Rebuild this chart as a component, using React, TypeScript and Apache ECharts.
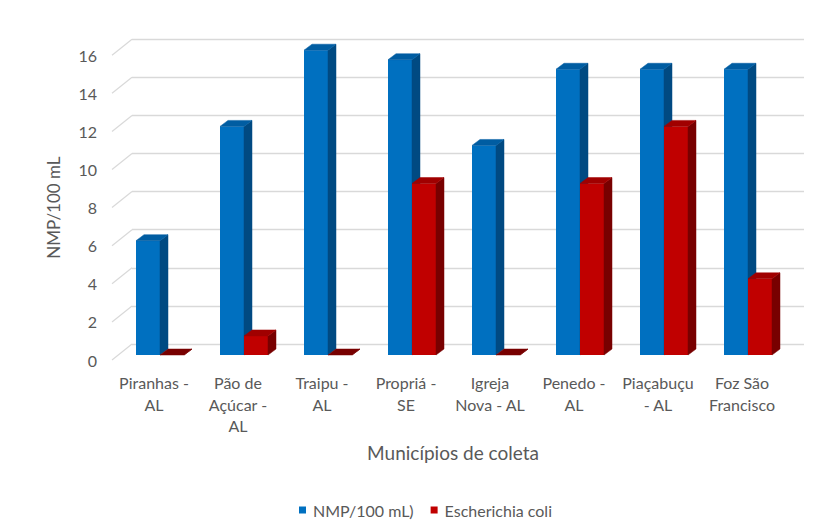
import React, { useEffect, useRef } from "react";
import * as echarts from "echarts";

const categories = [
  "Piranhas -\nAL",
  "Pão de\nAçúcar -\nAL",
  "Traipu -\nAL",
  "Propriá -\nSE",
  "Igreja\nNova - AL",
  "Penedo -\nAL",
  "Piaçabuçu\n- AL",
  "Foz São\nFrancisco",
];
const nmpValues = [6, 12, 16, 15.5, 11, 15, 15, 15];
const ecoliValues = [0, 1, 0, 9, 0, 9, 12, 4];
const yTicks = [0, 2, 4, 6, 8, 10, 12, 14, 16];
const seriesNames = ["NMP/100 mL)", "Escherichia coli"];
const xTitle = "Municípios de coleta";
const yTitle = "NMP/100 mL";

const FONT = "Lato, 'Open Sans', sans-serif";
const TXT = "#595959";

const blue = { front: "#0070C0", top: "#005DA2", side: "#004A82" };
const red = { front: "#C00000", top: "#A00000", side: "#780000" };

function makeBar(side: number, c: { front: string; top: string; side: string }) {
  return (params: any, api: any) => {
    const i = api.value(0);
    const v = api.value(1);
    const base = api.coord([i, 0]);
    const topP = api.coord([i, v]);
    const band = api.size([1, 0])[0];
    const w = (band * 24) / 84;
    const x0 = side < 0 ? base[0] - w : base[0];
    const x1 = x0 + w;
    const yb = base[1];
    const yt = topP[1];
    const dx = w / 3;
    const dy = -w / 4;
    const children: any[] = [];
    if (yb - yt > 0.1) {
      children.push({
        type: "rect",
        shape: { x: x0, y: yt, width: w, height: yb - yt },
        style: { fill: c.front },
      });
    }
    children.push({
      type: "polygon",
      shape: { points: [[x1, yt], [x1 + dx, yt + dy], [x1 + dx, yb + dy], [x1, yb]] },
      style: { fill: c.side, stroke: c.side, lineWidth: 0.5 },
    });
    children.push({
      type: "polygon",
      shape: { points: [[x0, yt], [x0 + dx, yt + dy], [x1 + dx, yt + dy], [x1, yt]] },
      style: { fill: v === 0 ? c.side : c.top, stroke: v === 0 ? c.side : c.top, lineWidth: 0.5 },
    });
    return { type: "group", children };
  };
}

export default function App() {
  const ref = useRef<HTMLDivElement>(null);
  useEffect(() => {
    if (!ref.current) return;
    const chart = echarts.init(ref.current, null, { renderer: "svg" });
    const frontTop = 55.2;
    const frontH = 304.8;
    const option: any = {
      animation: false,
      backgroundColor: "#ffffff",
      textStyle: { fontFamily: FONT },
      grid: [
        { left: 112, width: 672, top: frontTop, height: frontH },
        { left: 118, width: 672, top: frontTop - 5, height: frontH },
        { left: 132, width: 672, top: frontTop - 16, height: frontH },
      ],
      xAxis: [
        {
          gridIndex: 0,
          type: "category",
          data: categories,
          axisLine: { show: false },
          axisTick: { show: false },
          axisLabel: {
            interval: 0,
            color: TXT,
            fontSize: 16,
            lineHeight: 21.5,
            margin: 12,
            fontFamily: FONT,
          },
          name: xTitle,
          nameLocation: "middle",
          nameGap: 83,
          nameTextStyle: { color: TXT, fontSize: 19, fontFamily: FONT, padding: [0, 0, 0, 10] },
        },
        { gridIndex: 1, type: "category", data: categories, show: false },
        { gridIndex: 2, type: "category", data: categories, show: false },
      ],
      yAxis: [
        {
          gridIndex: 0,
          type: "value",
          min: 0,
          max: 16,
          interval: 2,
          axisLine: { show: false },
          axisTick: { show: false },
          splitLine: { show: false },
          axisLabel: { color: TXT, fontSize: 16, margin: 15, fontFamily: FONT },
          name: yTitle,
          nameLocation: "middle",
          nameRotate: 90,
          nameGap: 50,
          nameTextStyle: { color: TXT, fontSize: 17, fontFamily: FONT },
        },
        {
          gridIndex: 1,
          type: "value",
          min: 0,
          max: 16,
          interval: 2,
          show: false,
        },
        {
          gridIndex: 2,
          type: "value",
          min: 0,
          max: 16,
          interval: 2,
          axisLine: { show: false },
          axisTick: { show: false },
          axisLabel: { show: false },
          splitLine: { show: true, lineStyle: { color: "#D9D9D9", width: 1.3 } },
        },
      ],
      legend: {
        data: seriesNames,
        bottom: 7,
        left: 294,
        icon: "rect",
        itemWidth: 7,
        itemHeight: 7,
        itemGap: 17,
        textStyle: { color: TXT, fontSize: 16, fontFamily: FONT, padding: [0, 0, 0, 2] },
      },
      series: [
        {
          type: "custom",
          name: "diag",
          xAxisIndex: 0,
          yAxisIndex: 0,
          silent: true,
          data: yTicks.map((t) => [0, t]),
          renderItem: (params: any, api: any) => {
            const y = api.coord([0, api.value(1)])[1];
            const x = params.coordSys.x;
            return {
              type: "line",
              shape: { x1: x, y1: y, x2: x + 20, y2: y - 16 },
              style: { stroke: "#D9D9D9", lineWidth: 1.3 },
            };
          },
          z: 1,
        },
        {
          type: "custom",
          name: seriesNames[0],
          xAxisIndex: 1,
          yAxisIndex: 1,
          itemStyle: { color: blue.front },
          data: nmpValues.map((v, i) => [i, v]),
          renderItem: makeBar(-1, blue),
          z: 3,
        },
        {
          type: "custom",
          name: seriesNames[1],
          xAxisIndex: 1,
          yAxisIndex: 1,
          itemStyle: { color: red.front },
          data: ecoliValues.map((v, i) => [i, v]),
          renderItem: makeBar(1, red),
          z: 4,
        },
      ],
    };
    chart.setOption(option);
    return () => chart.dispose();
  }, []);
  return (
    <div
      ref={ref}
      style={{ position: "fixed", left: 0, top: 0, width: 829, height: 530, background: "#fff" }}
    />
  );
}
